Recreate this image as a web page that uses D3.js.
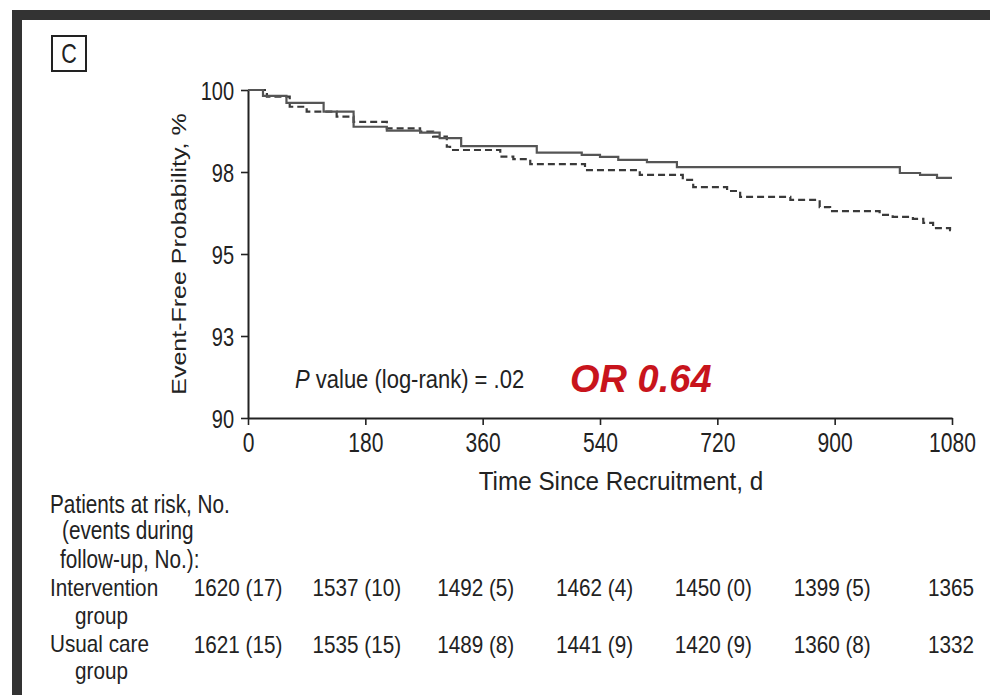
<!DOCTYPE html>
<html lang="en">
  <head>
    <meta charset="utf-8" />
    <style>
      body {
        margin: 0;
        background: #fff;
      }
      svg text {
        font-family: "Liberation Sans", Arial, sans-serif;
        fill: #222;
      }
    </style>
  </head>
  <body>
    <svg id="chart" width="990" height="695"></svg>
    <script src="https://d3js.org/d3.v7.min.js"></script>
    <script>
      // Kaplan-Meier steps, days since recruitment vs event-free %
      const interventionDays = [0, 23, 59, 116, 162, 213, 264, 294, 327, 443, 512, 540, 568, 612, 658, 1000, 1031, 1057, 1080];
      const interventionSurv = [100, 99.82, 99.61, 99.34, 98.88, 98.76, 98.7, 98.53, 98.29, 98.09, 98.02, 97.96, 97.87, 97.8, 97.65, 97.47, 97.41, 97.32, 97.32];

      const usualDays = [0, 29, 64, 90, 136, 162, 213, 264, 284, 305, 310, 387, 407, 433, 517, 601, 667, 683, 735, 755, 832, 877, 893, 969, 989, 1020, 1036, 1051, 1077, 1080];
      const usualSurv = [100, 99.8, 99.49, 99.34, 99.19, 99.03, 98.83, 98.73, 98.58, 98.27, 98.17, 97.97, 97.89, 97.74, 97.56, 97.41, 97.26, 97.04, 96.92, 96.74, 96.65, 96.43, 96.31, 96.19, 96.13, 96.07, 95.95, 95.79, 95.73, 95.73];

      const xTicks = [0, 180, 360, 540, 720, 900, 1080];
      const yTicks = [90, 92.5, 95, 97.5, 100];
      const yTickLabels = ["90", "93", "95", "98", "100"];

      // patients at risk table
      const riskDays = [0, 180, 360, 540, 720, 900, 1080];
      const interventionAtRisk = [1620, 1537, 1492, 1462, 1450, 1399, 1365];
      const interventionEvents = [17, 10, 5, 4, 0, 5, null];
      const usualAtRisk = [1621, 1535, 1489, 1441, 1420, 1360, 1332];
      const usualEvents = [15, 15, 8, 9, 9, 8, null];

      const pValueText = ".02";
      const oddsRatio = "0.64";

      const svg = d3.select("#chart");

      // dark frame on top and left edge
      svg.append("rect").attr("x", 12).attr("y", 10).attr("width", 978).attr("height", 10).attr("fill", "#333");
      svg.append("rect").attr("x", 12).attr("y", 10).attr("width", 10).attr("height", 685).attr("fill", "#333");

      // text squeezed horizontally, the way the original typesetting looks
      const label = (x, y, str, size, sx, anchor) =>
        svg
          .append("text")
          .attr("transform", `translate(${x},${y}) scale(${sx},1)`)
          .attr("text-anchor", anchor || "start")
          .attr("font-size", size)
          .text(str);

      // panel letter
      svg.append("rect").attr("x", 52).attr("y", 36).attr("width", 34).attr("height", 35)
        .attr("fill", "none").attr("stroke", "#222").attr("stroke-width", 2);
      label(69, 63, "C", 27, 0.8, "middle");

      const x = d3.scaleLinear().domain([0, 1080]).range([248, 952]);
      const y = d3.scaleLinear().domain([90, 100]).range([418, 90]);
      // columns of the at-risk table sit a little wider than the axis
      const riskX = d3.scaleLinear().domain([0, 1080]).range([238, 951]);

      const yAxis = svg
        .append("g")
        .attr("transform", `translate(${x(0)},0)`)
        .call(
          d3.axisLeft(y)
            .tickValues(yTicks)
            .tickFormat((d, i) => yTickLabels[i])
            .tickSize(7)
            .tickSizeOuter(0)
        );
      yAxis.selectAll("text")
        .attr("font-size", 25)
        .attr("x", -14 / 0.8)
        .attr("dy", "0.36em")
        .attr("transform", "scale(0.8,1)");

      const xAxis = svg
        .append("g")
        .attr("transform", `translate(0,${y(90)})`)
        .call(
          d3.axisBottom(x)
            .tickValues(xTicks)
            .tickFormat(d3.format("d"))
            .tickSize(7)
            .tickSizeOuter(0)
        );
      xAxis.selectAll("text")
        .attr("font-size", 27)
        .attr("y", 34)
        .attr("dy", 0)
        .attr("transform", "scale(0.78,1)");

      svg.selectAll(".domain").attr("stroke", "#222").attr("stroke-width", 2);
      svg.selectAll(".tick line").attr("stroke", "#222").attr("stroke-width", 1.6);
      svg.selectAll(".tick text").attr("fill", "#222").attr("font-family", null);

      // survival curves
      const line = d3
        .line()
        .x(d => x(d[0]))
        .y(d => y(d[1]))
        .curve(d3.curveStepAfter);

      svg.append("path")
        .datum(usualDays.map((d, i) => [d, usualSurv[i]]))
        .attr("d", line)
        .attr("fill", "none")
        .attr("stroke", "#3a3a3a")
        .attr("stroke-width", 2.2)
        .attr("stroke-dasharray", "7,4");

      svg.append("path")
        .datum(interventionDays.map((d, i) => [d, interventionSurv[i]]))
        .attr("d", line)
        .attr("fill", "none")
        .attr("stroke", "#555")
        .attr("stroke-width", 2.2);

      // axis titles
      svg.append("text")
        .attr("transform", `translate(186,${y(95)}) rotate(-90) scale(1,0.8)`)
        .attr("text-anchor", "middle")
        .attr("font-size", 25)
        .text("Event-Free Probability, %");

      label(621, 490, "Time Since Recruitment, d", 25, 0.97, "middle");

      // annotations
      const pv = svg.append("text")
        .attr("transform", "translate(295,388) scale(0.88,1)")
        .attr("font-size", 25);
      pv.append("tspan").attr("font-style", "italic").text("P");
      pv.append("tspan").text(` value (log-rank) = ${pValueText}`);

      svg.append("text")
        .attr("x", 570)
        .attr("y", 392)
        .attr("font-size", 38)
        .attr("font-weight", "bold")
        .attr("font-style", "italic")
        .style("fill", "#c8141c")
        .text(`OR ${oddsRatio}`);

      // risk table
      label(50, 513, "Patients at risk, No.", 25, 0.83);
      label(62, 539, "(events during", 25, 0.83);
      label(60, 568, "follow-up, No.):", 25, 0.83);
      label(50, 596, "Intervention", 23, 0.9);
      label(75, 624, "group", 23, 0.9);
      label(50, 652, "Usual care", 23, 0.9);
      label(75, 679, "group", 23, 0.9);

      const cell = (n, e) => (e === null ? `${n}` : `${n} (${e})`);
      riskDays.forEach((d, i) => {
        label(riskX(d), 596, cell(interventionAtRisk[i], interventionEvents[i]), 23, 0.9, "middle");
        label(riskX(d), 653, cell(usualAtRisk[i], usualEvents[i]), 23, 0.9, "middle");
      });
    </script>
  </body>
</html>
